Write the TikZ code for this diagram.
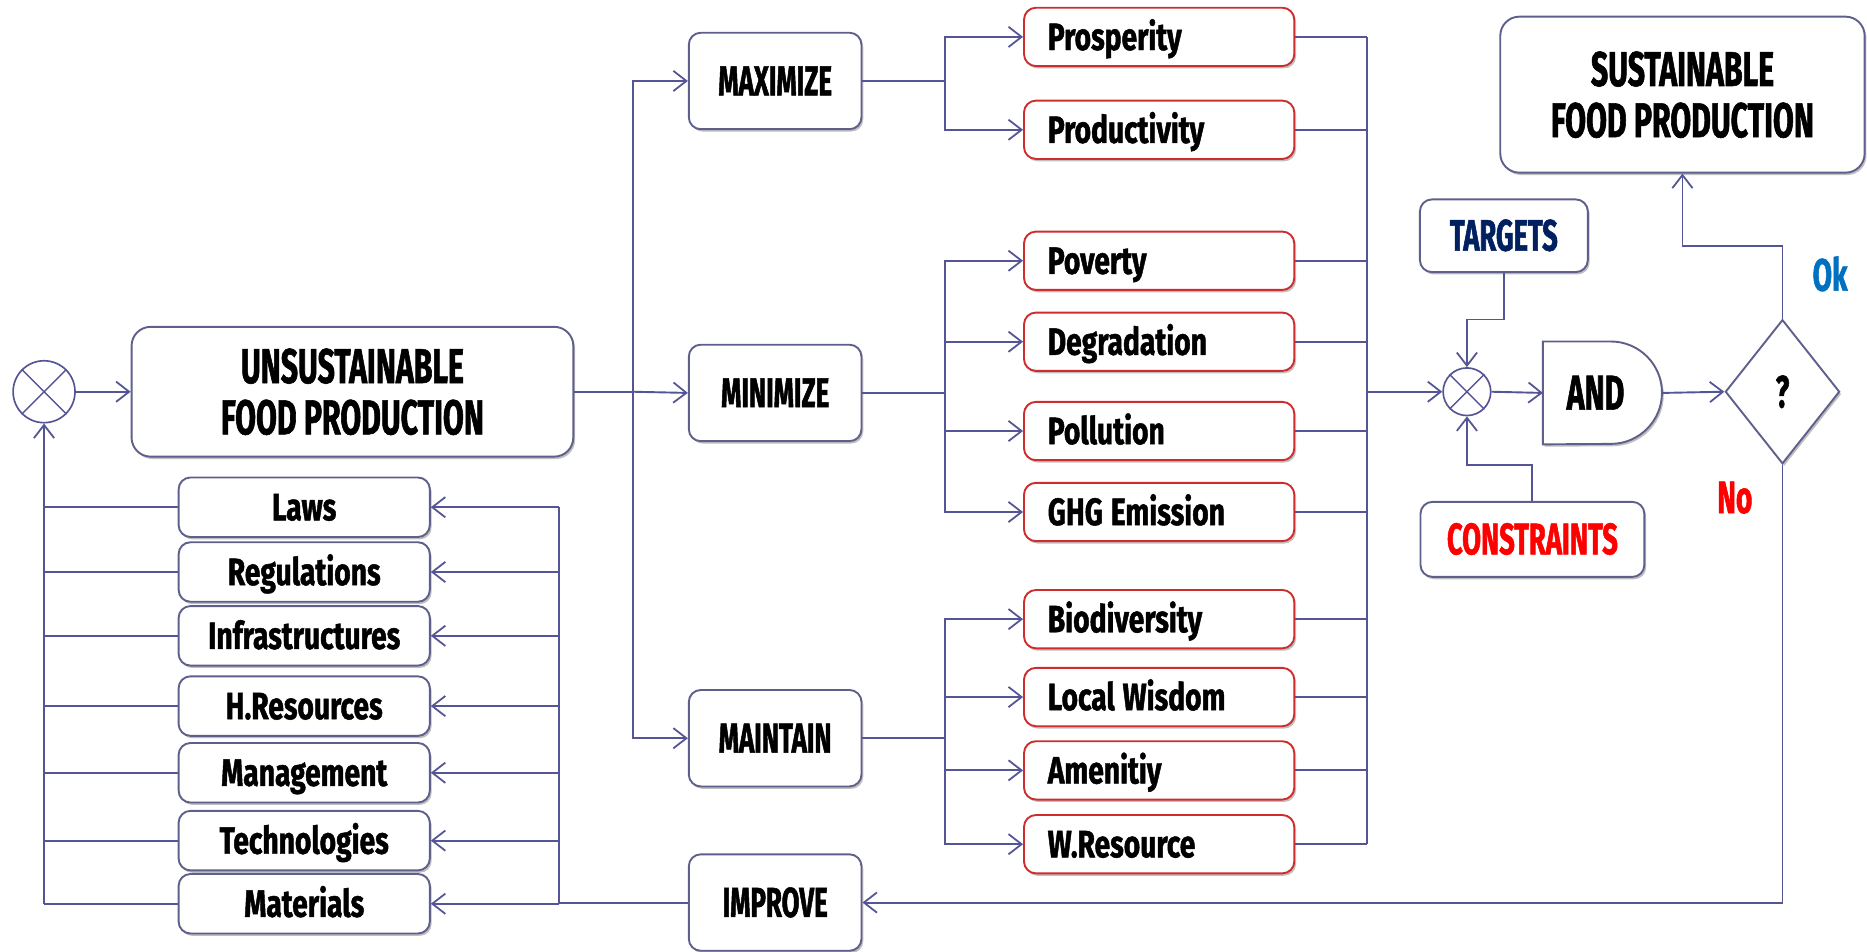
\documentclass[tikz,border=0pt]{standalone}
\usepackage{fontspec}
\newfontfamily\labf{Fira Sans}[FakeStretch=0.74, FakeBold=1.2]
\newfontfamily\capf{Fira Sans}[FakeStretch=0.62, FakeBold=1.2]
\newcommand\tsp{\hspace{-4pt} }
\usetikzlibrary{arrows.meta,shapes.geometric,shadows,calc}
\definecolor{lc}{RGB}{85,85,150}
\definecolor{bc}{RGB}{95,95,140}
\definecolor{rc}{RGB}{205,45,45}
\definecolor{navy}{RGB}{0,32,96}
\definecolor{okblue}{RGB}{0,112,192}
\tikzset{
  conn/.style={draw=lc, line width=1.6pt},
  arr/.style={conn, -{Straight Barb[length=11pt,width=17pt,line width=1.5pt]}},
  shad/.style={drop shadow={shadow xshift=1.5pt,shadow yshift=-2pt,fill=black,opacity=0.25}},
  box/.style={draw=bc, line width=1.6pt, fill=white, rounded corners=10pt, shad, inner sep=0pt},
  smallbox/.style={box, minimum width=211pt, minimum height=50pt, font=\labf\bfseries\fontsize{32}{34}\selectfont, text height=22pt, text depth=0pt},
  redbox/.style={box, draw=rc, text width=187pt, inner xsep=20pt, minimum height=49pt, font=\labf\bfseries\fontsize{32}{34}\selectfont, text height=22pt, text depth=0pt, align=left},
  midbox/.style={box, minimum width=145pt, minimum height=81pt, font=\capf\bfseries\fontsize{35}{37}\selectfont, text height=24pt, text depth=0pt},
  bigbox/.style={box, rounded corners=16pt, align=center, font=\capf\bfseries\fontsize{41}{43}\selectfont},
  xcirc/.style={circle, draw=lc, line width=1.4pt, fill=white, inner sep=0pt},
  lbl/.style={font=\capf\bfseries\fontsize{38}{40}\selectfont, inner sep=0pt}
}
\begin{document}
\begin{tikzpicture}[x=1pt,y=-1pt]
\useasboundingbox (0,0) rectangle (1568,799);
% main nodes
\node[xcirc, minimum size=52pt] (c1) at (37,329) {};
\draw[lc, line width=1.2pt] (c1.north west) -- (c1.south east) (c1.north east) -- (c1.south west);
\node[bigbox, minimum width=371pt, minimum height=109pt] (unsus) at (296,329) {UNSUSTAINABLE\\FOOD PRODUCTION};
\node[midbox] (max) at (651,68) {MAXIMIZE};
\node[midbox] (min) at (651,330) {MINIMIZE};
\node[midbox] (maint) at (651,620) {MAINTAIN};
\node[midbox] (impr) at (651,758) {IMPROVE};
% red boxes
\node[redbox] (prosp) at (973.5,31) {Prosperity};
\node[redbox] (produ) at (973.5,109) {Productivity};
\node[redbox] (pov) at (973.5,219) {Poverty};
\node[redbox] (degr) at (973.5,287) {Degradation};
\node[redbox] (poll) at (973.5,362) {Pollution};
\node[redbox] (ghg) at (973.5,430) {GHG\tsp Emission};
\node[redbox] (bio) at (973.5,520) {Biodiversity};
\node[redbox] (wis) at (973.5,585.4) {Local\tsp Wisdom};
\node[redbox] (amen) at (973.5,647) {Amenitiy};
\node[redbox] (wres) at (973.5,709) {W.Resource};
% left boxes
\node[smallbox] (laws) at (255.5,426) {Laws};
\node[smallbox] (regu) at (255.5,480.4) {Regulations};
\node[smallbox] (infr) at (255.5,534) {Infrastructures};
\node[smallbox] (hres) at (255.5,593) {H.Resources};
\node[smallbox] (mgmt) at (255.5,649) {Management};
\node[smallbox] (tech) at (255.5,706) {Technologies};
\node[smallbox] (mat) at (255.5,759) {Materials};
% right part
\node[xcirc, minimum size=40pt] (c2) at (1232,329) {};
\draw[lc, line width=1.2pt] (c2.north west) -- (c2.south east) (c2.north east) -- (c2.south west);
\node[box, minimum width=141pt, minimum height=61pt, font=\capf\bfseries\fontsize{37}{39}\selectfont, text=navy, text height=25pt, text depth=0pt] (targ) at (1263,198) {TARGETS};
\node[box, minimum width=188pt, minimum height=63pt, font=\capf\bfseries\fontsize{37}{39}\selectfont, text=red, text height=25pt, text depth=0pt] (cons) at (1287,453) {CONSTRAINTS};
\node[minimum width=100pt, minimum height=86pt, inner sep=0pt] (andg) at (1346,330) {};
\draw[draw=bc, line width=1.6pt, fill=white, shad] (andg.north west) -- ++(57,0) arc (-90:90:43) -- (andg.south west) -- cycle;
\node[font=\capf\bfseries\fontsize{41}{43}\selectfont, text height=28pt, text depth=0pt, inner sep=0pt] (andt) at (1340,330) {AND};
\node[diamond, draw=bc, line width=1.6pt, fill=white, shad, minimum width=96pt, minimum height=121pt, inner sep=0pt, font=\capf\bfseries\fontsize{38}{40}\selectfont] (dia) at (1497,329) {?};
\node[bigbox, minimum width=306pt, minimum height=131pt] (sust) at (1413,79.5) {SUSTAINABLE\\FOOD PRODUCTION};
\node[lbl, text=okblue] (ok) at (1537,230) {Ok};
\node[lbl, text=red] (no) at (1457,418) {No};
% connectors: left loop
\draw[arr] (c1.east) -- (unsus.west);
\draw[conn] (unsus.east) -- ++(49,0) coordinate (j1);
\draw[arr] (j1) |- (max.west);
\draw[arr] (j1) -- (min.west);
\draw[arr] (j1) |- (maint.west);
% branches
\draw[conn] (max.east) -- ++(69,0) coordinate (j2);
\draw[arr] (j2) |- (prosp.west);
\draw[arr] (j2) |- (produ.west);
\draw[conn] (min.east) -- ++(69,0) coordinate (j3);
\draw[arr] (j3) |- (pov.west);
\draw[arr] (j3) |- (degr.west);
\draw[arr] (j3) |- (poll.west);
\draw[arr] (j3) |- (ghg.west);
\draw[conn] (maint.east) -- ++(69,0) coordinate (j4);
\draw[arr] (j4) |- (bio.west);
\draw[arr] (j4) |- (wis.west);
\draw[arr] (j4) |- (amen.west);
\draw[arr] (j4) |- (wres.west);
% right bus
\coordinate (bus) at (1148,0);
\foreach \n in {prosp,produ,pov,degr,poll,ghg,bio,wis,amen,wres}{
  \draw[conn] (\n.east) -- (\n.east -| bus);
}
\draw[conn] (prosp.east -| bus) -- (wres.east -| bus);
\draw[arr] (c2.west -| bus) -- (c2.west);
\draw[arr] (targ.south) -- ++(0,39) -| (c2.north);
\draw[arr] (cons.north) -- ++(0,-30) -| (c2.south);
\draw[arr] (c2.east) -- (andg.west);
\draw[arr] (andg.east) -- (dia.west);
\draw[arr] (dia.north) -- ++(0,-61) -| (sust.south);
\draw[arr] (dia.south) |- (impr.east);
% improve to left boxes
\draw[conn] (impr.west) -- ++(-108,0) coordinate (j5);
\draw[conn] (laws.east -| j5) -- (j5);
\foreach \n in {laws,regu,infr,hres,mgmt,tech,mat}{
  \draw[arr] (\n.east -| j5) -- (\n.east);
  \draw[conn] (\n.west) -- (\n.west -| c1);
}
\draw[arr] (mat.west -| c1) -- (c1.south);
\end{tikzpicture}
\end{document}
